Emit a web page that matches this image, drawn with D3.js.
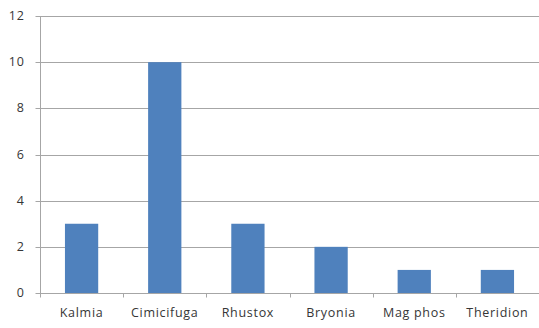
<!DOCTYPE html>
<html>
<head>
<meta charset="utf-8">
<script src="https://cdn.jsdelivr.net/npm/d3@7"></script>
<style>
  html, body { margin: 0; padding: 0; background: #fff; }
  svg { display: block; }
  text { font-family: "Open Sans", "Liberation Sans", sans-serif; fill: #363636; letter-spacing: 0.7px; }
</style>
</head>
<body>
<svg id="chart" width="539" height="328"></svg>
<script>
// Remedies and their counts
const categories = ["Kalmia", "Cimicifuga", "Rhustox", "Bryonia", "Mag phos", "Theridion"];
const counts = [3, 10, 3, 2, 1, 1];
const yTicks = [0, 2, 4, 6, 8, 10, 12];

(function () {
  const svg = d3.select("#chart");
  const plotLeft = 40, plotRight = 539, plotTop = 16, plotBottom = 293;
  const fontSize = 12.5;

  const x = d3.scaleBand().domain(categories).range([plotLeft, plotRight]).padding(0);
  const y = d3.scaleLinear().domain([0, 12]).range([plotBottom, plotTop]);

  const gridColor = "#a6a6a6";

  // horizontal gridlines
  svg.append("g")
    .selectAll("line")
    .data(yTicks.filter(d => d > 0))
    .join("line")
    .attr("x1", plotLeft).attr("x2", plotRight)
    .attr("y1", d => Math.round(y(d)) + 0.5)
    .attr("y2", d => Math.round(y(d)) + 0.5)
    .attr("stroke", gridColor)
    .attr("stroke-width", 1);

  // bars: 40% of each category slot, centered
  const barW = x.bandwidth() * 0.4;
  svg.append("g")
    .selectAll("rect")
    .data(categories.map((c, i) => ({ c, v: counts[i] })))
    .join("rect")
    .attr("x", d => x(d.c) + (x.bandwidth() - barW) / 2)
    .attr("y", d => y(d.v))
    .attr("width", barW)
    .attr("height", d => y(0) - y(d.v))
    .attr("fill", "#4f81bd");

  // y axis
  const yAxis = svg.append("g")
    .attr("transform", `translate(${plotLeft + 0.5},0)`)
    .call(d3.axisLeft(y).tickValues(yTicks).tickSize(5).tickPadding(11).tickFormat(d3.format("d")));
  yAxis.select(".domain").attr("stroke", gridColor).attr("d", `M0,${y(12)}V${y(0)}`);
  yAxis.selectAll(".tick").attr("transform", d => `translate(0,${Math.round(y(d)) + 0.5})`);
  yAxis.selectAll(".tick line").attr("stroke", gridColor);
  yAxis.selectAll(".tick text").attr("font-size", fontSize).attr("fill", "#363636")
    .attr("dy", "0.3em")
    .style("font-family", '"Open Sans", "Liberation Sans", sans-serif');

  // x axis with ticks at category boundaries
  const xAxisG = svg.append("g").attr("transform", `translate(0,${Math.round(y(0)) + 0.5})`);
  xAxisG.append("line")
    .attr("x1", plotLeft).attr("x2", plotRight)
    .attr("stroke", gridColor);
  xAxisG.selectAll("line.tk")
    .data(categories.map(c => x(c)))
    .join("line")
    .attr("class", "tk")
    .attr("x1", d => Math.round(d) + 0.5).attr("x2", d => Math.round(d) + 0.5)
    .attr("y1", 0).attr("y2", 4)
    .attr("stroke", gridColor);
  xAxisG.selectAll("text.lbl")
    .data(categories)
    .join("text")
    .attr("class", "lbl")
    .attr("x", d => x(d) + x.bandwidth() / 2)
    .attr("y", 23.3)
    .attr("text-anchor", "middle")
    .attr("font-size", fontSize)
    .text(d => d);
})();
</script>
</body>
</html>
